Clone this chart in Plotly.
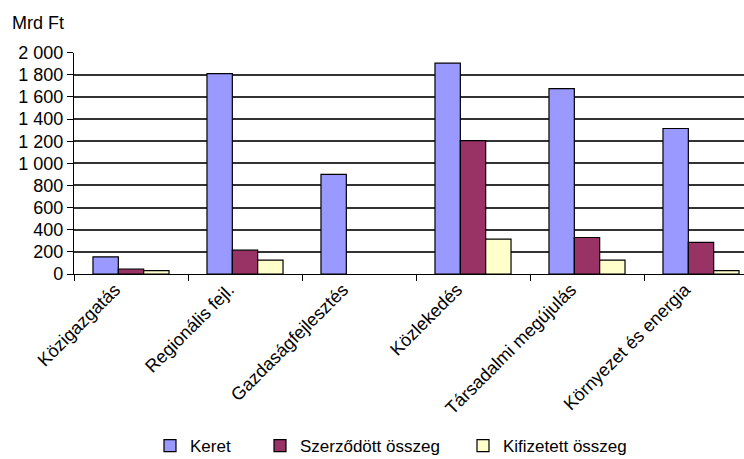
import plotly.graph_objects as go

categories = ["Közigazgatás", "Regionális fejl.", "Gazdaságfejlesztés",
              "Közlekedés", "Társadalmi megújulás", "Környezet és energia"]
keret = [155, 1810, 900, 1905, 1675, 1315]
szerzodott = [45, 215, None, 1205, 330, 285]
kifizetett = [30, 125, None, 315, 125, 30]
series_names = ["Keret", "Szerződött összeg", "Kifizetett összeg"]
series_colors = ["#9999FF", "#993366", "#FFFFCC"]
y_tickvals = [0, 200, 400, 600, 800, 1000, 1200, 1400, 1600, 1800, 2000]
y_ticktext = ["0", "200", "400", "600", "800", "1 000", "1 200", "1 400", "1 600", "1 800", "2 000"]

W, H = 744, 459
FONT = "Liberation Sans, Arial, sans-serif"

fig = go.Figure()
legend_ids = ["legend", "legend2", "legend3"]
for vals, name, col, lg in zip([keret, szerzodott, kifizetett], series_names, series_colors, legend_ids):
    fig.add_trace(go.Bar(
        x=categories, y=vals, name=name, legend=lg,
        marker=dict(color=col, line=dict(color="#000000", width=1.2)),
    ))

plot_left, plot_right = 74, 744
plot_top, plot_bottom = 52.7, 274
cat_w = 114.0
x_end = -0.5 + (plot_right - plot_left) / cat_w

legend_px = [150, 260, 463]
legend_common = dict(orientation="h", yanchor="middle", xanchor="left",
                     y=1 - 446 / H, font=dict(family=FONT, size=17, color="#000"),
                     bgcolor="rgba(0,0,0,0)", borderwidth=0)
layout_legends = {}
for lg, px in zip(legend_ids, legend_px):
    layout_legends[lg] = dict(legend_common, x=px / W)

fig.update_layout(
    width=W, height=H,
    margin=dict(l=0, r=0, t=0, b=0, autoexpand=False),
    paper_bgcolor="white", plot_bgcolor="white",
    font=dict(family=FONT, size=17, color="#000"),
    barmode="group", bargap=0.333, bargroupgap=0,
    showlegend=True,
    **layout_legends,
    xaxis=dict(
        domain=[plot_left / W, plot_right / W],
        range=[-0.5, x_end],
        type="category",
        tickson="boundaries",
        ticks="outside", ticklen=6, tickcolor="#000", tickwidth=1.2,
        showline=True, linecolor="#000", linewidth=1.2,
        showgrid=False,
        tickangle=-45,
        ticklabelshift=-16,
        ticklabelstandoff=-3,
        tickfont=dict(family=FONT, size=18, color="#000"),
        automargin=False,
    ),
    yaxis=dict(
        domain=[1 - plot_bottom / H, 1 - plot_top / H],
        range=[0, 2000],
        tickvals=y_tickvals, ticktext=y_ticktext,
        ticks="outside", ticklen=6, tickcolor="#000", tickwidth=1.2,
        showline=True, linecolor="#000", linewidth=1.2,
        showgrid=True, gridcolor="#333", gridwidth=1.5,
        zeroline=False,
        tickfont=dict(family=FONT, size=18, color="#000"),
        automargin=False,
    ),
    annotations=[dict(
        text="Mrd Ft", xref="paper", yref="paper",
        x=10 / W, y=1 - 23.5 / H, xanchor="left", yanchor="middle",
        showarrow=False, font=dict(family=FONT, size=18, color="#000"),
    )],
)

fig.write_html("out.html")
